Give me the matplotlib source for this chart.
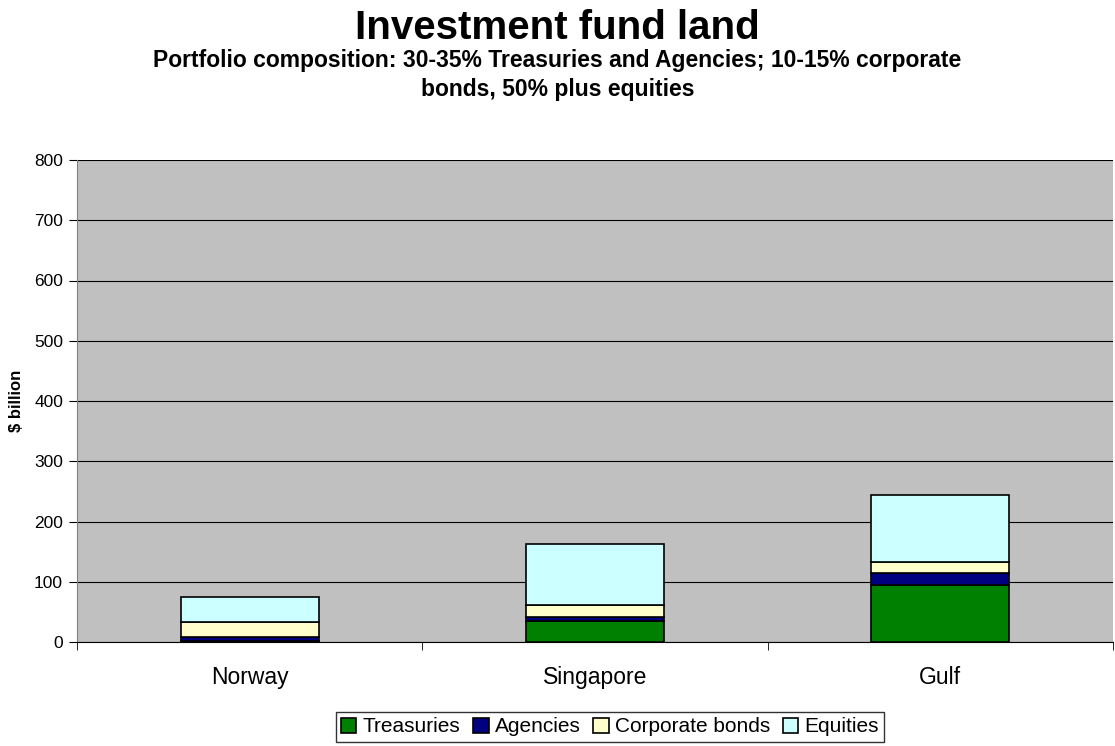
import numpy as np
import matplotlib.pyplot as plt

plt.rcParams['font.family'] = ['Liberation Sans', 'DejaVu Sans']

countries = ['Norway', 'Singapore', 'Gulf']
treasuries = [1, 35, 95]
agencies = [7, 7, 19]
corporate = [25, 20, 19]
equities = [42, 101, 111]

series = [('Treasuries', treasuries, '#008000'),
          ('Agencies', agencies, '#000080'),
          ('Corporate bonds', corporate, '#FFFFCC'),
          ('Equities', equities, '#CCFFFF')]

fig = plt.figure(figsize=(11.15, 7.46), dpi=100)
ax = fig.add_axes([77/1115, 1-642/746, (1113-77)/1115, (642-160)/746])
ax.set_facecolor('#C0C0C0')

x = np.arange(len(countries))
bottom = np.zeros(len(countries))
for name, vals, col in series:
    ax.bar(x, vals, 0.4, bottom=bottom, color=col, edgecolor='black',
           linewidth=1.2, label=name, zorder=3)
    bottom += np.array(vals)

ax.set_xlim(-0.5, 2.5)
ax.set_ylim(0, 800)
ax.set_yticks(range(0, 801, 100))
ax.yaxis.grid(True, color='black', linewidth=0.8, zorder=0)
ax.set_xticks(x)
ax.set_xticklabels(countries, fontsize=16.5)
ax.set_xticks([-0.5, 0.5, 1.5, 2.5], minor=True)
ax.tick_params(axis='x', which='major', length=0, pad=17)
ax.tick_params(axis='x', which='minor', length=6, direction='out', color='black')
ax.tick_params(axis='y', length=6, direction='out', labelsize=12.5, pad=4)
for s in ['top', 'right']:
    ax.spines[s].set_visible(False)
ax.spines['left'].set_color('#808080')
ax.spines['bottom'].set_color('black')
ax.set_ylabel('$ billion', fontsize=12, fontweight='bold', labelpad=7)

fig.text(0.5, 1-28/746, 'Investment fund land', ha='center', va='center',
         fontsize=29, fontweight='bold')
fig.text(0.5, 1-75/746, 'Portfolio composition: 30-35% Treasuries and Agencies; 10-15% corporate\nbonds, 50% plus equities',
         ha='center', va='center', fontsize=16.5, fontweight='bold', linespacing=1.3)

leg = fig.legend(loc='center', bbox_to_anchor=(610/1115, 1-727/746), ncol=4,
                 fontsize=15, frameon=True, fancybox=False, handlelength=0.75,
                 handleheight=0.75, handletextpad=0.3, columnspacing=0.6,
                 borderpad=0.25, edgecolor='black')
leg.get_frame().set_linewidth(1)

fig.savefig('out.png', dpi=100, facecolor='white')
